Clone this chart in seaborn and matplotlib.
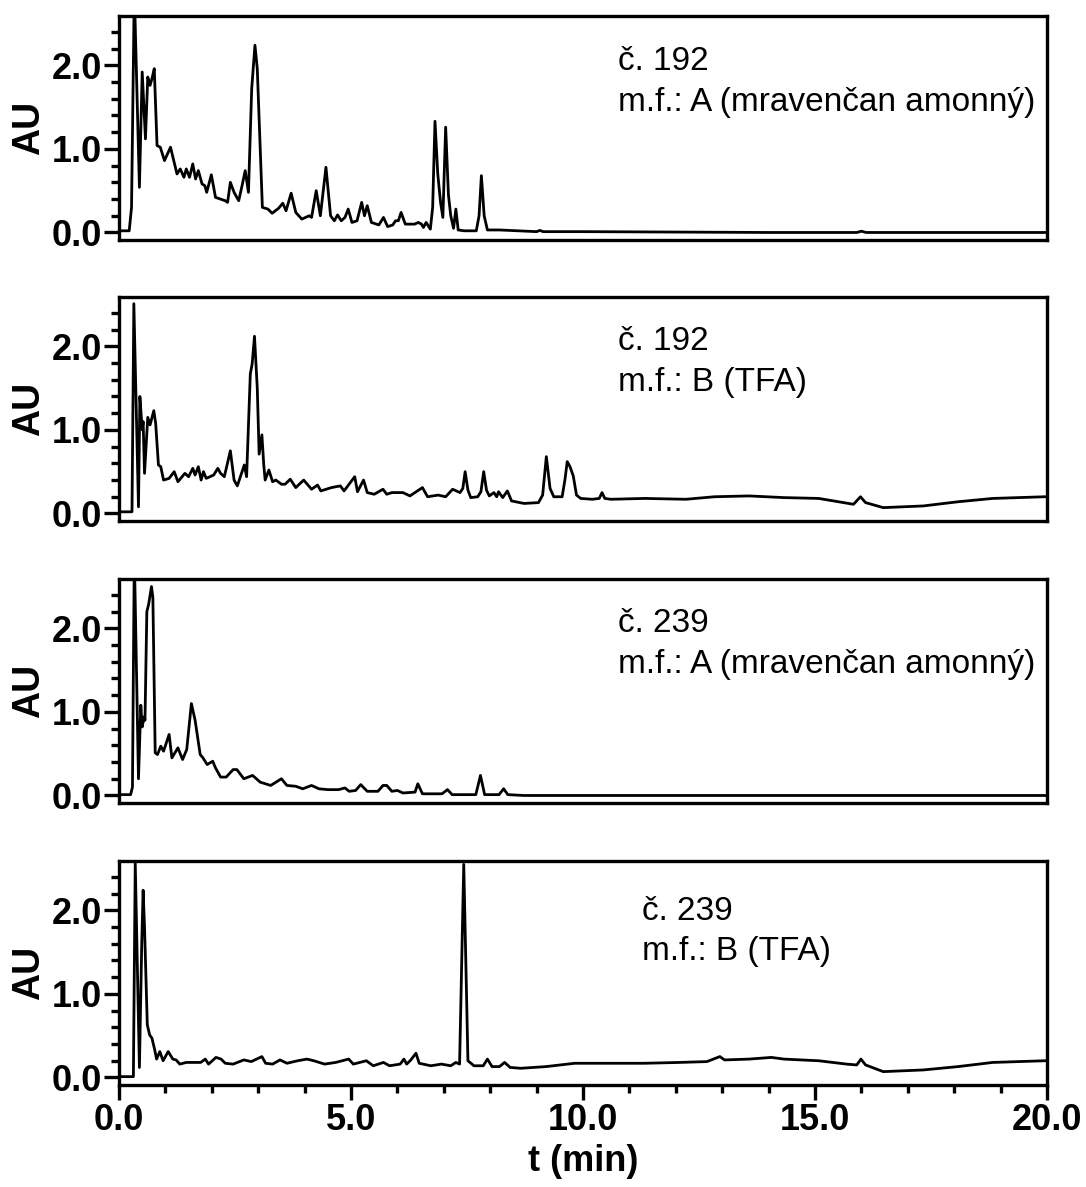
import numpy as np
import pandas as pd
import matplotlib
matplotlib.use("Agg")
import matplotlib.pyplot as plt
from matplotlib.ticker import MultipleLocator, FormatStrFormatter
import seaborn as sns

# --- chromatogram traces (t in min, absorbance in AU) ---
t_192a = [0.0, 0.22, 0.27, 0.33, 0.44, 0.50, 0.57, 0.62, 0.67, 0.71, 0.76, 0.82, 0.89, 0.98,
          1.11, 1.25, 1.32, 1.40, 1.45, 1.52, 1.59, 1.65, 1.71, 1.79, 1.85, 1.89, 1.99, 2.08,
          2.29, 2.34, 2.40, 2.48, 2.58, 2.66, 2.72, 2.79, 2.86, 2.93, 2.98, 3.09, 3.21, 3.30,
          3.44, 3.53, 3.60, 3.71, 3.81, 3.94, 4.10, 4.15, 4.25, 4.34, 4.46, 4.56, 4.64, 4.71,
          4.79, 4.87, 4.94, 5.02, 5.13, 5.23, 5.29, 5.35, 5.44, 5.60, 5.70, 5.79, 5.90, 5.96,
          6.02, 6.08, 6.17, 6.37, 6.45, 6.52, 6.56, 6.62, 6.71, 6.76, 6.81, 6.87, 6.93, 6.98,
          7.04, 7.10, 7.15, 7.21, 7.26, 7.31, 7.44, 7.70, 7.76, 7.81, 7.87, 7.94, 8.20, 8.60,
          9.00, 9.07, 9.14, 10.0, 12.0, 14.0, 15.9, 16.0, 16.1, 18.0, 20.0]
au_192a = [0.02, 0.02, 0.30, 2.90, 0.54, 1.92, 1.12, 1.86, 1.76, 1.84, 1.96, 1.04, 1.02, 0.86,
           1.02, 0.70, 0.76, 0.66, 0.76, 0.66, 0.82, 0.64, 0.74, 0.58, 0.56, 0.48, 0.69, 0.42,
           0.38, 0.36, 0.60, 0.48, 0.38, 0.58, 0.74, 0.48, 1.72, 2.24, 1.96, 0.30, 0.28, 0.23,
           0.29, 0.35, 0.26, 0.47, 0.24, 0.16, 0.20, 0.18, 0.50, 0.20, 0.78, 0.20, 0.14, 0.21,
           0.14, 0.18, 0.28, 0.12, 0.14, 0.36, 0.20, 0.32, 0.12, 0.09, 0.18, 0.07, 0.09, 0.14,
           0.14, 0.24, 0.10, 0.10, 0.12, 0.10, 0.06, 0.12, 0.04, 0.30, 1.33, 0.70, 0.36, 0.18,
           1.26, 0.45, 0.20, 0.05, 0.28, 0.03, 0.02, 0.02, 0.20, 0.68, 0.20, 0.03, 0.03, 0.02,
           0.01, 0.025, 0.01, 0.01, 0.005, 0.0, 0.0, 0.015, 0.0, 0.0, 0.0]

t_192b = [0.0, 0.28, 0.32, 0.42, 0.45, 0.50, 0.52, 0.55, 0.62, 0.67, 0.75, 0.79, 0.85, 0.90,
          0.96, 1.08, 1.19, 1.27, 1.42, 1.50, 1.59, 1.64, 1.71, 1.77, 1.82, 1.88, 2.04, 2.13,
          2.19, 2.27, 2.40, 2.48, 2.55, 2.64, 2.70, 2.75, 2.83, 2.87, 2.92, 2.98, 3.02, 3.08,
          3.12, 3.15, 3.23, 3.31, 3.38, 3.50, 3.58, 3.69, 3.81, 3.98, 4.15, 4.28, 4.35, 4.58,
          4.77, 4.85, 5.08, 5.14, 5.27, 5.35, 5.50, 5.69, 5.77, 5.88, 6.12, 6.27, 6.54, 6.65,
          6.88, 7.04, 7.19, 7.35, 7.41, 7.46, 7.52, 7.58, 7.73, 7.80, 7.86, 7.92, 7.98, 8.08,
          8.14, 8.18, 8.27, 8.37, 8.46, 8.73, 9.04, 9.13, 9.21, 9.29, 9.37, 9.55, 9.61, 9.66,
          9.72, 9.79, 9.86, 9.95, 10.20, 10.35, 10.41, 10.47, 10.60, 11.33, 12.22, 12.83,
          13.58, 14.33, 15.08, 15.83, 15.98, 16.09, 16.47, 17.33, 18.08, 18.83, 19.95, 20.0]
au_192b = [0.02, 0.02, 2.51, 0.08, 1.40, 1.00, 1.10, 0.48, 1.15, 1.06, 1.23, 1.08, 0.58, 0.56,
           0.40, 0.42, 0.50, 0.38, 0.48, 0.44, 0.54, 0.46, 0.56, 0.40, 0.50, 0.42, 0.46, 0.54,
           0.48, 0.44, 0.75, 0.40, 0.33, 0.48, 0.58, 0.44, 1.67, 1.79, 2.12, 1.50, 0.71, 0.94,
           0.58, 0.40, 0.52, 0.38, 0.40, 0.35, 0.35, 0.41, 0.31, 0.40, 0.29, 0.34, 0.27, 0.31,
           0.33, 0.27, 0.44, 0.26, 0.40, 0.25, 0.23, 0.29, 0.23, 0.25, 0.25, 0.21, 0.31, 0.20,
           0.22, 0.20, 0.29, 0.25, 0.30, 0.50, 0.28, 0.19, 0.20, 0.26, 0.50, 0.28, 0.21, 0.25,
           0.20, 0.26, 0.19, 0.27, 0.15, 0.12, 0.13, 0.22, 0.68, 0.30, 0.20, 0.20, 0.40, 0.62,
           0.56, 0.45, 0.22, 0.18, 0.17, 0.18, 0.25, 0.18, 0.17, 0.18, 0.17, 0.20,
           0.21, 0.19, 0.18, 0.11, 0.20, 0.13, 0.07, 0.09, 0.14, 0.18, 0.20, 0.20]

t_239a = [0.0, 0.25, 0.29, 0.33, 0.42, 0.47, 0.50, 0.54, 0.56, 0.60, 0.64, 0.70, 0.73, 0.78,
          0.83, 0.90, 0.96, 1.08, 1.14, 1.27, 1.37, 1.46, 1.56, 1.64, 1.75, 1.81, 1.90, 2.02,
          2.08, 2.19, 2.31, 2.46, 2.54, 2.69, 2.88, 3.04, 3.27, 3.50, 3.62, 3.81, 3.96, 4.15,
          4.31, 4.50, 4.73, 4.87, 4.96, 5.10, 5.21, 5.35, 5.58, 5.69, 5.77, 5.88, 6.00, 6.12,
          6.38, 6.44, 6.54, 6.96, 7.08, 7.18, 7.69, 7.79, 7.88, 8.19, 8.29, 8.38, 8.73, 20.0]
au_239a = [0.01, 0.01, 0.10, 2.90, 0.20, 1.08, 0.82, 0.94, 0.90, 2.20, 2.29, 2.50, 2.37, 0.51,
           0.49, 0.59, 0.53, 0.73, 0.45, 0.57, 0.43, 0.55, 1.10, 0.90, 0.49, 0.45, 0.37, 0.41,
           0.33, 0.22, 0.22, 0.31, 0.31, 0.20, 0.24, 0.16, 0.12, 0.20, 0.12, 0.11, 0.08, 0.12,
           0.08, 0.07, 0.07, 0.09, 0.05, 0.06, 0.13, 0.05, 0.05, 0.12, 0.12, 0.05, 0.06, 0.03,
           0.04, 0.14, 0.02, 0.02, 0.07, 0.01, 0.01, 0.24, 0.01, 0.01, 0.08, 0.01, 0.0, 0.0]

t_239b = [0.0, 0.31, 0.35, 0.44, 0.49, 0.52, 0.55, 0.61, 0.66, 0.71, 0.77, 0.81, 0.88, 0.95,
          1.06, 1.16, 1.23, 1.31, 1.45, 1.76, 1.86, 1.93, 2.09, 2.20, 2.29, 2.46, 2.69, 2.85,
          3.08, 3.16, 3.31, 3.47, 3.62, 3.85, 4.05, 4.20, 4.43, 4.67, 4.95, 5.05, 5.33, 5.48,
          5.70, 5.83, 6.06, 6.14, 6.20, 6.29, 6.40, 6.47, 6.72, 6.95, 7.15, 7.26, 7.34, 7.43,
          7.52, 7.65, 7.85, 7.94, 8.04, 8.20, 8.31, 8.43, 8.66, 9.20, 9.82, 10.57, 11.33, 12.08,
          12.67, 12.95, 13.05, 13.58, 14.06, 14.33, 15.08, 15.68, 15.90, 15.99, 16.09, 16.47,
          17.33, 18.08, 18.83, 19.95, 20.0]
au_239b = [0.01, 0.01, 2.57, 0.12, 1.60, 2.24, 1.80, 0.63, 0.51, 0.47, 0.33, 0.22, 0.31, 0.20,
           0.31, 0.22, 0.21, 0.16, 0.18, 0.18, 0.22, 0.16, 0.24, 0.22, 0.17, 0.16, 0.21, 0.19,
           0.25, 0.17, 0.16, 0.21, 0.17, 0.20, 0.22, 0.20, 0.16, 0.18, 0.22, 0.16, 0.20, 0.14,
           0.18, 0.14, 0.16, 0.22, 0.16, 0.21, 0.29, 0.17, 0.14, 0.16, 0.14, 0.18, 0.16, 2.55,
           0.20, 0.14, 0.14, 0.22, 0.13, 0.13, 0.18, 0.12, 0.11, 0.13, 0.17, 0.17, 0.17, 0.18,
           0.19, 0.25, 0.21, 0.22, 0.24, 0.22, 0.20, 0.16, 0.15, 0.22, 0.15, 0.07,
           0.09, 0.13, 0.18, 0.20, 0.20]

sample_labels = ["č. 192", "č. 192", "č. 239", "č. 239"]
phase_labels = ["m.f.: A (mravenčan amonný)", "m.f.: B (TFA)",
                "m.f.: A (mravenčan amonný)", "m.f.: B (TFA)"]

traces = [(t_192a, au_192a), (t_192b, au_192b), (t_239a, au_239a), (t_239b, au_239b)]

sns.set_theme(style="ticks")
plt.rcParams["font.family"] = ["Liberation Sans", "DejaVu Sans"]
# seaborn's theme greys the text; the original is pure black
plt.rcParams["text.color"] = "black"
plt.rcParams["axes.labelcolor"] = "black"
plt.rcParams["xtick.color"] = "black"
plt.rcParams["ytick.color"] = "black"
plt.rcParams["xtick.labelcolor"] = "black"
plt.rcParams["ytick.labelcolor"] = "black"

W, H = 1086, 1187
fig = plt.figure(figsize=(W / 100, H / 100), dpi=100)

left, width = 119 / W, 928 / W
tops = [16, 297, 579, 861]
ph = 224
text_x = [0.538, 0.538, 0.538, 0.564]
text_y = [(0.795, 0.615), (0.80, 0.62), (0.80, 0.62), (0.775, 0.595)]
spine_w = 2.4

for i, (tt, aa) in enumerate(traces):
    bottom = (H - (tops[i] + ph)) / H
    ax = fig.add_axes([left, bottom, width, ph / H])
    df = pd.DataFrame({"t": tt, "AU": aa})
    sns.lineplot(data=df, x="t", y="AU", ax=ax, color="black", linewidth=2.0,
                 estimator=None, sort=False, solid_joinstyle="round")
    ax.set_xlim(0, 20)
    ax.set_ylim(-0.09, 2.59)
    for s in ax.spines.values():
        s.set_linewidth(spine_w)
        s.set_color("black")
    ax.yaxis.set_major_locator(MultipleLocator(1.0))
    ax.yaxis.set_minor_locator(MultipleLocator(0.2))
    ax.yaxis.set_major_formatter(FormatStrFormatter("%.1f"))
    ax.tick_params(axis="y", which="major", length=11, width=spine_w, pad=1,
                   labelsize=26, direction="out", color="black", labelcolor="black")
    ax.tick_params(axis="y", which="minor", length=6, width=spine_w, direction="out",
                   color="black")
    for lab in ax.get_yticklabels():
        lab.set_fontweight("bold")
    ax.set_ylabel("AU", fontsize=27, fontweight="bold", color="black")
    ax.yaxis.set_label_coords(-0.078, 0.5)

    if i < 3:
        ax.set_xlabel("")
        ax.tick_params(axis="x", which="both", bottom=False, labelbottom=False)
    else:
        ax.xaxis.set_major_locator(MultipleLocator(5.0))
        ax.xaxis.set_minor_locator(MultipleLocator(1.0))
        ax.xaxis.set_major_formatter(FormatStrFormatter("%.1f"))
        ax.tick_params(axis="x", which="major", length=11, width=spine_w, pad=2,
                       labelsize=26, direction="out", color="black", labelcolor="black")
        ax.tick_params(axis="x", which="minor", length=6, width=spine_w,
                       direction="out", color="black")
        for lab in ax.get_xticklabels():
            lab.set_fontweight("bold")
        ax.set_xlabel("t (min)", fontsize=26, fontweight="bold", labelpad=4,
                      color="black")

    ax.text(text_x[i], text_y[i][0], sample_labels[i], transform=ax.transAxes,
            fontsize=24, va="center", ha="left", color="black")
    ax.text(text_x[i], text_y[i][1], phase_labels[i], transform=ax.transAxes,
            fontsize=24, va="center", ha="left", color="black")

fig.savefig("out.png", dpi=100)
